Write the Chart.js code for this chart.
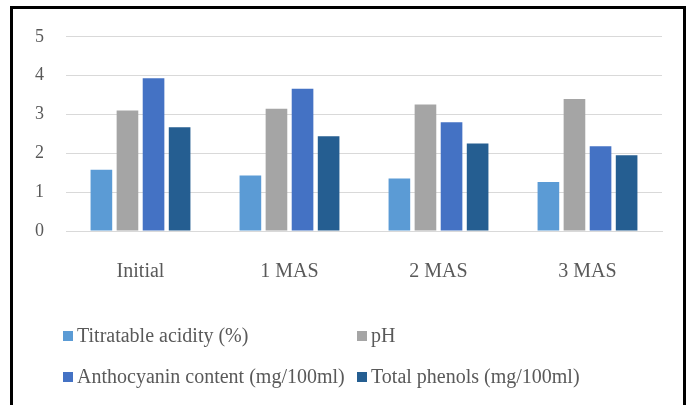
<!DOCTYPE html>
<html>
<head>
<meta charset="utf-8">
<script src="https://cdn.jsdelivr.net/npm/chart.js@4"></script>
<style>
  html, body { margin: 0; padding: 0; background: #fff; }
  #frame {
    position: absolute; left: 10px; top: 6px; width: 670px; height: 420px;
    border: 3px solid #000; background: #fff;
  }
  #wrap { position: absolute; left: 0; top: -5px; width: 670px; height: 301px; }
  #legend { position: absolute; left: 0; top: 0; width: 670px; height: 420px; pointer-events: none; }
  .item {
    position: absolute; font-family: "Liberation Serif", serif; font-size: 20px;
    color: #595959; white-space: nowrap; line-height: 24px;
  }
  .box { display: inline-block; width: 10px; height: 10px; margin-right: 4px; vertical-align: 1px; }
</style>
</head>
<body>
<div id="frame">
  <div id="wrap"><canvas id="qualityChart"></canvas></div>
  <div id="legend"></div>
</div>
<script>
const stages = ["Initial", "1 MAS", "2 MAS", "3 MAS"];
const titratableAcidity = [1.58, 1.43, 1.35, 1.26];
const phValues = [3.10, 3.15, 3.26, 3.40];
const anthocyanin = [3.93, 3.66, 2.80, 2.18];
const totalPhenols = [2.67, 2.44, 2.25, 1.95];
const yTicks = [0, 1, 2, 3, 4, 5];

const ctx = document.getElementById("qualityChart").getContext("2d");

const qualityChart = new Chart(ctx, {
  type: "bar",
  data: {
    labels: stages,
    datasets: [
      { label: "Titratable acidity (%)", data: titratableAcidity, backgroundColor: "#5B9BD5" },
      { label: "pH", data: phValues, backgroundColor: "#A5A5A5" },
      { label: "Anthocyanin content (mg/100ml)", data: anthocyanin, backgroundColor: "#4472C4" },
      { label: "Total phenols (mg/100ml)", data: totalPhenols, backgroundColor: "#255E91" },
    ],
  },
  options: {
    responsive: true,
    maintainAspectRatio: false,
    animation: false,
    categoryPercentage: 0.7,
    barPercentage: 0.83,
    layout: { padding: { left: 0, right: 21, top: 11, bottom: 0 } },
    plugins: {
      legend: { display: false },
      tooltip: { enabled: false },
    },
    scales: {
      x: {
        grid: { display: false },
        border: { display: true, color: "#d9d9d9", width: 1 },
        ticks: {
          padding: 21,
          color: "#595959",
          font: { family: "Liberation Serif", size: 20 },
        },
      },
      y: {
        min: 0,
        max: 5,
        afterBuildTicks: (axis) => {
          axis.ticks = yTicks.map((v) => ({ value: v }));
        },
        grid: { color: "#d9d9d9", drawTicks: false, lineWidth: 1 },
        border: { display: false },
        ticks: {
          padding: 22,
          color: "#595959",
          font: { family: "Liberation Serif", size: 18 },
        },
      },
    },
  },
});

// legend in two columns, like the original
function buildLegend() {
  const legend = document.getElementById("legend");
  const cols = [50, 344];
  const rows = [314, 355];
  qualityChart.data.datasets.forEach((ds, i) => {
    const el = document.createElement("div");
    el.className = "item";
    el.style.left = cols[i % 2] + "px";
    el.style.top = rows[Math.floor(i / 2)] + "px";
    el.innerHTML = '<span class="box" style="background:' + ds.backgroundColor + '"></span>' + ds.label;
    legend.appendChild(el);
  });
}
buildLegend();
</script>
</body>
</html>
